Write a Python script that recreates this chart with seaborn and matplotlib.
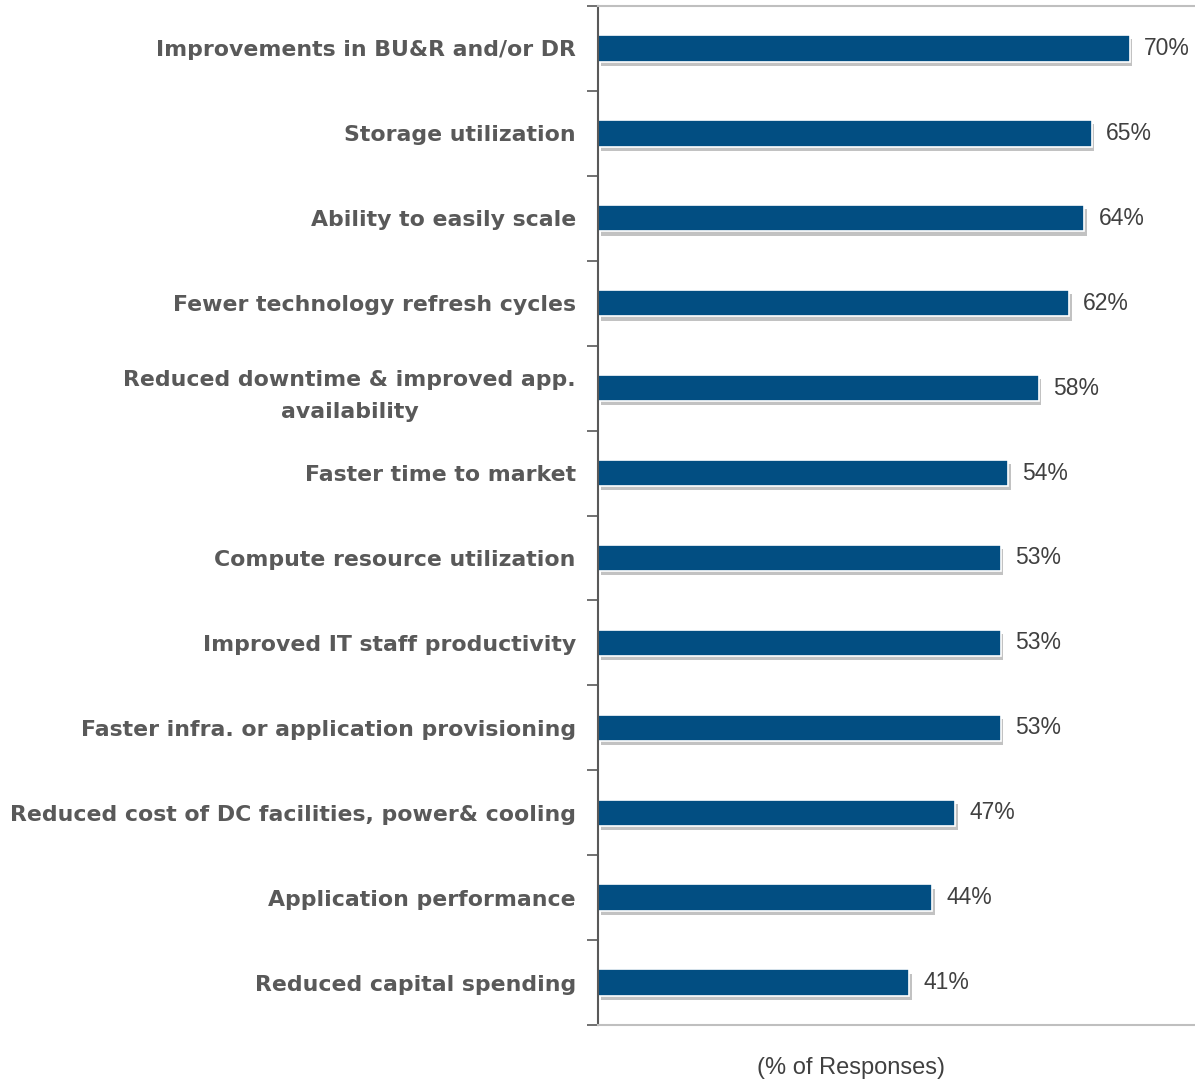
import matplotlib
matplotlib.use("Agg")
import matplotlib.pyplot as plt
import matplotlib.patheffects as pe
from matplotlib.ticker import FixedLocator
import seaborn as sns
import pandas as pd

categories = [
    "Improvements in BU&R and/or DR",
    "Storage utilization",
    "Ability to easily scale",
    "Fewer technology refresh cycles",
    "Reduced downtime & improved app.\navailability",
    "Faster time to market",
    "Compute resource utilization",
    "Improved IT staff productivity",
    "Faster infra. or application provisioning",
    "Reduced cost of DC facilities, power& cooling",
    "Application performance",
    "Reduced capital spending",
]
values = [70, 65, 64, 62, 58, 54, 53, 53, 53, 47, 44, 41]
x_label = "(% of Responses)"

df = pd.DataFrame({"category": categories, "pct": values})

sns.set_theme(style="white")
plt.rcParams["font.family"] = ["DejaVu Sans"]

BAR = "#024E82"
GREY = "#595959"

fig = plt.figure(figsize=(11.95, 10.82), dpi=100)
ax = fig.add_axes([598 / 1195, 1 - 1025 / 1082, 1 - 598 / 1195, (1025 - 6) / 1082])

sns.barplot(data=df, y="category", x="pct", orient="h", color=BAR,
            width=0.31, edgecolor="white", linewidth=1.2, ax=ax, saturation=1)

for patch in ax.patches:
    patch.set_path_effects([
        pe.SimplePatchShadow(offset=(2, -3), shadow_rgbFace="#9a9a9a", alpha=0.6),
        pe.Normal(),
    ])

for i, v in enumerate(values):
    ax.text(v + 1.9, i, f"{v}%", va="center", ha="left",
            fontsize=16.5, color="#404040", family="Liberation Sans")

ax.set_xlim(0, 78.6)
ax.set_ylim(len(categories) - 0.5, -0.5)
ax.set_xticks([])
ax.set_ylabel("")
ax.set_xlabel("")
fig.text(851 / 1195, 1 - 1068 / 1082, x_label, ha="center", va="center",
         fontsize=17, color="#404040", family="Liberation Sans")

ax.tick_params(axis="y", which="major", length=0, pad=16)
ax.yaxis.set_minor_locator(FixedLocator([i - 0.5 for i in range(len(categories) + 1)]))
ax.tick_params(axis="y", which="minor", length=8, width=1.2, color=GREY, left=True)
for lbl in ax.get_yticklabels():
    lbl.set_fontweight("bold")
    lbl.set_fontsize(15.8)
    lbl.set_color(GREY)
    lbl.set_multialignment("center")
    lbl.set_linespacing(1.75)

for side in ["top", "bottom"]:
    ax.spines[side].set_visible(True)
    ax.spines[side].set_color("#BFBFBF")
    ax.spines[side].set_linewidth(1.5)
ax.spines["left"].set_color(GREY)
ax.spines["left"].set_linewidth(1.5)
ax.spines["right"].set_visible(False)

fig.savefig("out.png", dpi=100)
